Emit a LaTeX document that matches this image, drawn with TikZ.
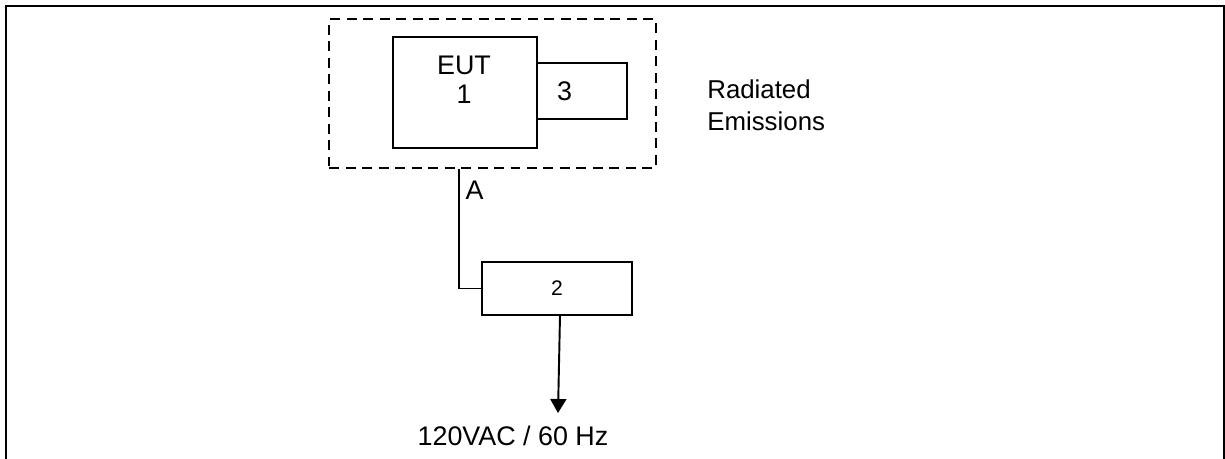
\documentclass[tikz,border=0pt]{standalone}
\usepackage{fontspec}
\setmainfont{Liberation Sans}
\usetikzlibrary{arrows.meta,calc}

\tikzset{
  devbox/.style={draw, line width=0.85pt, inner sep=0pt},
  txt/.style={font=\fontsize{15.3}{15.3}\selectfont},
}

\begin{document}
\begin{tikzpicture}[x=0.02cm, y=-0.02cm]
      \useasboundingbox (0,0) rectangle (1225,458);
      \draw[line width=1.2pt] (6,480) -- (6,6) -- (1224,6) -- (1224,480);

      \node[draw, dash pattern=on 0.2cm off 0.13cm, line width=1.1pt, minimum width=6.54cm, minimum height=2.98cm] (enc) at (492.5,93.5) {};
      \node[devbox, minimum width=2.88cm, minimum height=2.22cm] (eut) at (465,92.5) {};
      \node[font=\fontsize{15.3}{16.4}\selectfont, align=center] (eutname) at (464,80) {EUT\\1};
      \node[devbox, txt, minimum width=1.8cm, minimum height=1.12cm, text width=1.0cm, inner xsep=0.4cm, align=left] (aux) at (582,91) {3};

      \node[font=\fontsize{14.7}{18.2}\selectfont, align=left, anchor=base west, inner sep=0pt] (test) at (707,130) {Radiated\\Emissions};

      \node[devbox, minimum width=3.0cm, minimum height=1.06cm, font=\fontsize{12}{12}\selectfont] (psu) at (557,288.5) {2};
      \draw[line width=0.85pt] ([xshift=-0.67cm]enc.south) |- node[txt, pos=0.09, right] {A} (psu.west);

      \coordinate (mains) at (558,413);
      \draw[line width=1.1pt, -{Triangle[width=0.32cm, length=0.28cm]}] ([xshift=0.06cm]psu.south) -- (mains);
      \node[txt] (supply) at (513,436) {120VAC / 60 Hz};
\end{tikzpicture}
\end{document}
